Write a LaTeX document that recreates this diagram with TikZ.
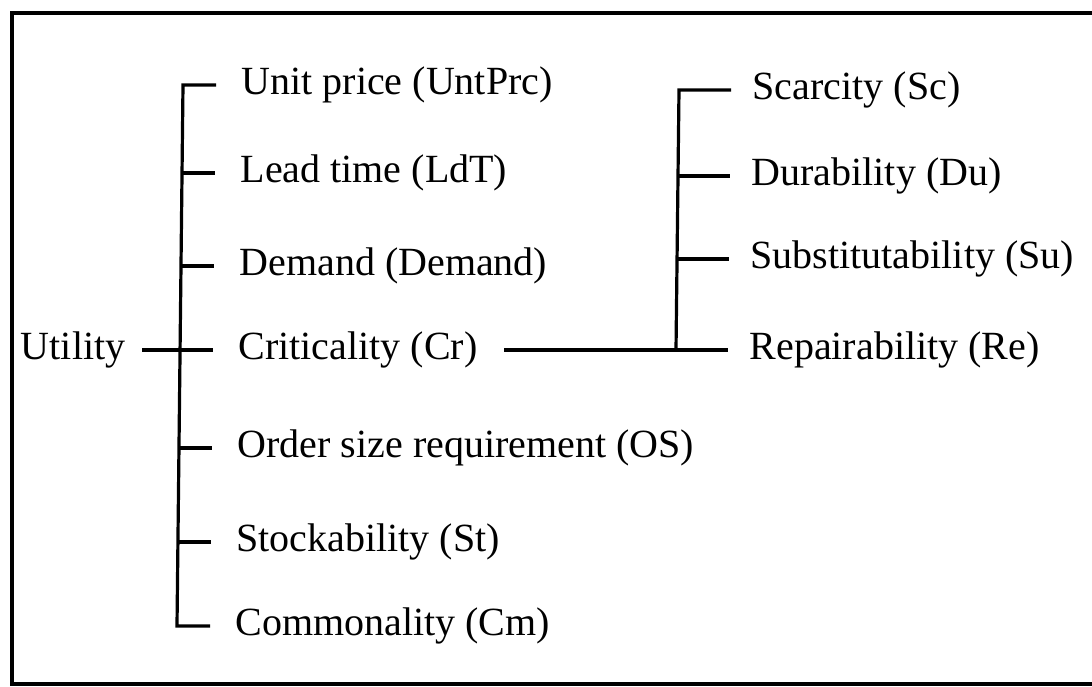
\documentclass[tikz,border=0pt]{standalone}
\usepackage{fontspec}
\setmainfont{Liberation Serif}
\usetikzlibrary{positioning}

\begin{document}
\begin{tikzpicture}[x=1pt,y=-1pt,line width=3.2pt,
  item/.style={anchor=west,inner sep=0pt,font=\fontsize{40}{48}\selectfont},
  tick/.style={shorten >=24pt}]
  \useasboundingbox (0,0) rectangle (1092,687);
  \clip (0,0) rectangle (1092,687);
  % frame, open on the right
  \draw[line width=4pt] (12,13) rectangle (1130,684);

  % attributes of utility
  \foreach \n/\bx/\ty/\txt in {up/183/85/Unit price (UntPrc),
      ldt/182/173/Lead time (LdT),
      dm/181/266/Demand (Demand),
      cr/180/350/Criticality (Cr),
      os/179/448/Order size requirement (OS),
      st/178/542/Stockability (St),
      cm/177/626/Commonality (Cm)} {
    \coordinate (lb-\n) at (\bx,\ty);
    \node[item] (\n) at (\bx+57,\ty) {\txt};
  }
  \node[item,anchor=east] (ut) at (127,350) {Utility};

  % left bracket
  \draw[shorten <=24pt,shorten >=24pt] (up.west) -- (lb-up) -- (lb-cm) -- (cm.west);
  \foreach \n in {ldt,dm,os,st}
    \draw[tick] (lb-\n) -- (\n.west);
  \draw[shorten <=15pt,shorten >=24pt] (ut.east) -- (cr.west);

  % attributes of criticality
  \foreach \n/\bx/\ty/\txt in {sc/679/90/Scarcity (Sc),
      du/678/176/Durability (Du),
      su/677/259/Substitutability (Su),
      re/676/350/Repairability (Re)} {
    \coordinate (rb-\n) at (\bx,\ty);
    \node[item] (\n) at (\bx+72,\ty) {\txt};
  }

  % right bracket
  \draw[shorten <=20pt] (sc.west) -- (rb-sc) -- (rb-re);
  \foreach \n in {du,su}
    \draw[shorten >=20pt] (rb-\n) -- (\n.west);
  \draw[shorten <=25pt,shorten >=20pt] (cr.east) -- (re.west);
\end{tikzpicture}
\end{document}
